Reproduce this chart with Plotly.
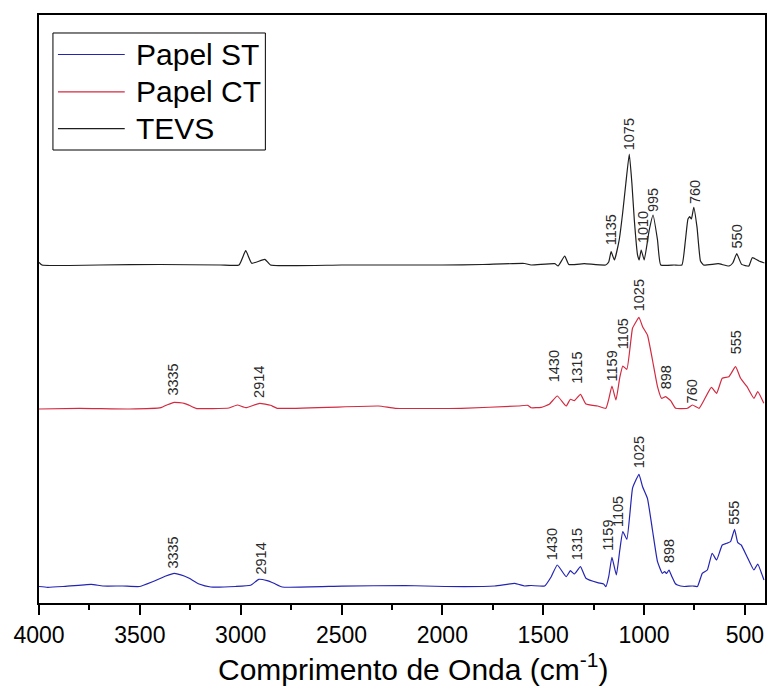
import numpy as np
import plotly.graph_objects as go

# FTIR spectra (wavenumber in cm-1, intensity in arbitrary units above each baseline)
st_wn = [4000, 3957, 3881, 3741, 3684, 3585, 3502, 3437, 3371, 3330, 3280, 3255, 3206, 3148,
         3025, 2951, 2910, 2869, 2835, 2794, 2498, 2185, 1987, 1740, 1641, 1592, 1560, 1493,
         1460, 1430, 1386, 1365, 1345, 1315, 1288, 1230, 1200, 1189, 1175, 1159, 1137, 1120,
         1105, 1085, 1057, 1040, 1025, 1007, 983, 958, 933, 909, 898, 888, 876, 862, 845,
         834, 800, 760, 735, 711, 686, 662, 640, 612, 590, 571, 551, 535, 518, 489, 455,
         436, 420, 405]
st_val = [0.0, -0.8, 0.0, 2.2, 0.5, 0.5, 0.0, 4.8, 10.5, 13.2, 10.5, 8.2, 2.5, -0.5,
          0.0, 1.2, 7.2, 5.8, 3.2, -0.5, 0.4, 1.0, 0.0, 0.5, 3.2, 0.5, 1.0, 0.5,
          9.8, 21.5, 9.8, 15.8, 12.5, 19.8, 8.2, 3.8, 2.5, -0.2, 9.8, 29.2, 11.5, 36.5,
          54.8, 47.2, 98.2, 106.5, 112.2, 99.8, 88.2, 56.5, 24.8, 13.2, 15.0, 13.0, 16.5, 10.0, 3.0,
          1.5, 0.0, 0.5, 0.0, 13.2, 16.5, 33.2, 26.5, 41.5, 43.2, 44.8, 57.2, 43.8, 41.5, 29.8, 16.5,
          22.5, 14.8, 6.5]

ct_wn = [4000, 3800, 3552, 3395, 3363, 3330, 3280, 3255, 3222, 3058, 3017, 2975, 2906, 2852,
         2819, 2317, 2234, 1905, 1625, 1576, 1560, 1510, 1470, 1430, 1386, 1365, 1345, 1315,
         1288, 1230, 1189, 1175, 1159, 1139, 1120, 1105, 1085, 1057, 1040, 1025, 1007, 983,
         958, 933, 913, 893, 868, 843, 785, 760, 727, 702, 666, 640, 612, 579, 546, 521,
         489, 455, 436, 406]
ct_val = [-1.0, -0.3, -1.0, 0.3, 3.3, 5.7, 4.7, 2.7, -0.3, 0.0, 3.0, 0.3, 4.7, 2.7,
          -0.3, 2.0, -0.3, -0.3, 2.0, 2.7, 0.3, 0.7, 3.7, 12.0, 2.0, 8.7, 7.3, 13.7,
          4.0, 2.0, -0.3, 8.7, 22.0, 8.0, 30.6, 42.0, 38.7, 79.7, 86.0, 90.7, 81.3, 73.0,
          48.0, 21.3, 9.7, 11.3, 7.3, -0.3, -0.3, 3.0, -0.3, 8.0, 20.7, 14.7, 29.7, 31.3, 41.3, 29.7,
          21.3, 9.7, 16.3, 4.7]

tevs_wn = [4000, 3985, 3850, 3700, 3400, 3100, 3008, 2975, 2945, 2880, 2852, 2500, 2000, 1800,
           1592, 1560, 1442, 1426, 1393, 1373, 1296, 1190, 1175, 1163, 1147, 1123, 1106, 1090,
           1073, 1060, 1048, 1032, 1024, 1014, 999, 974, 955, 933, 917, 850, 812, 795, 782,
           773, 765, 753, 737, 720, 705, 632, 579, 560, 540, 516, 480, 463, 430, 403]
tevs_val = [2.7, 0.0, -0.5, 0.0, 0.5, 0.0, 0.0, 14.3, 1.7, 5.7, 0.0, 0.0, 0.0, 0.5,
            1.5, 0.0, 1.3, -1.0, 9.0, 0.6, 1.3, 0.0, 3.0, 13.3, 5.0, 25.0, 51.7, 81.7,
            111.0, 81.7, 45.0, 10.0, 5.0, 15.0, 5.0, 35.0, 50.0, 25.0, 0.0, 0.0, 0.0, 24.0, 46.0,
            48.3, 46.0, 57.7, 37.6, 4.0, 0.0, 1.3, -1.0, 2.0, 11.3, 0.6, -1.0, 7.3, 4.0, 2.0]

# vertical stacking of the three spectra
offsets = {"Papel ST": 0.0, "Papel CT": 178.5, "TEVS": 321.5}

# peak labels: text, position (cm-1), gap above the peak (px), horizontal nudge (px)
st_labels = ["3335", "2914", "1430", "1315", "1159", "1105", "1025", "898", "555"]
st_label_wn = [3334, 2898, 1430, 1315, 1159, 1105, 1025, 876, 551]
st_label_gap = [6, 6, 6, 8, 8, 6, 7, 8, 5]
st_label_dx = [0, 0, -5, -4, -4, -5, 0, 0, 0]

ct_labels = ["3335", "2914", "1430", "1315", "1159", "1105", "1025", "898", "760", "555"]
ct_label_wn = [3334, 2906, 1430, 1315, 1159, 1105, 1025, 893, 760, 546]
ct_label_gap = [8, 6, 15, 12, 6, 18, 7, 8, 3, 13]
ct_label_dx = [0, 0, -3, -3, 0, 0, 0, 0, 0, 0]

tevs_labels = ["1135", "1075", "1010", "995", "760", "550"]
tevs_label_wn = [1163, 1073, 1014, 955, 753, 540]
tevs_label_gap = [7, 5, 8, 4, 4, 6]
tevs_label_dx = [0, 0, 2, 0, 1, 0]

colors = {"Papel ST": "#2424B4", "Papel CT": "#D22A40", "TEVS": "#1E1E1E"}
FONT = "Liberation Sans, Arial, sans-serif"

series = [
    ("Papel ST", st_wn, st_val, st_labels, st_label_wn, st_label_gap, st_label_dx),
    ("Papel CT", ct_wn, ct_val, ct_labels, ct_label_wn, ct_label_gap, ct_label_dx),
    ("TEVS", tevs_wn, tevs_val, tevs_labels, tevs_label_wn, tevs_label_gap, tevs_label_dx),
]

fig = go.Figure()
annotations = []
for name, wn, val, labs, lab_wn, gaps, dxs in series:
    wn_a = np.array(wn, dtype=float)
    y_a = np.array(val, dtype=float) + offsets[name]
    fig.add_trace(go.Scatter(x=wn_a, y=y_a, mode="lines", name=name, showlegend=False,
                             line=dict(color=colors[name], width=1.2,
                                       shape="spline", smoothing=0.4)))
    for text, xw, gap, dx in zip(labs, lab_wn, gaps, dxs):
        # label sits just above the highest point of the spectrum near its position
        win = (wn_a >= xw - 12) & (wn_a <= xw + 12)
        ytop = y_a[win].max() if win.any() else np.interp(xw, wn_a[::-1], y_a[::-1])
        annotations.append(dict(x=xw, y=ytop, text=text, showarrow=False, textangle=-90,
                                xanchor="center", yanchor="bottom", yshift=gap - 3, xshift=dx,
                                font=dict(family=FONT, size=14.5, color="#2A2A2A")))

# legend box drawn in paper coordinates, one row per spectrum
shapes = [dict(type="rect", xref="paper", yref="paper", x0=0.0192, x1=0.3118,
               y0=0.7704, y1=0.9694, line=dict(color="black", width=1), fillcolor="white",
               layer="above")]
legend_rows = [0.9328, 0.8692, 0.8068]
for (name, *_), ry in zip(series, legend_rows):
    shapes.append(dict(type="line", xref="paper", yref="paper", x0=0.0261, x1=0.1181,
                       y0=ry, y1=ry, line=dict(color=colors[name], width=1.2), layer="above"))
    annotations.append(dict(x=0.1305, y=ry, xref="paper", yref="paper", text=name,
                            showarrow=False, xanchor="left", yanchor="middle",
                            font=dict(family=FONT, size=30, color="black")))

# x-axis title
annotations.append(dict(x=0.5165, y=-0.109, xref="paper", yref="paper",
                        text="Comprimento de Onda (cm<sup>-1</sup>)", showarrow=False,
                        xanchor="center", yanchor="middle",
                        font=dict(family=FONT, size=30, color="black")))

fig.update_layout(
    width=771, height=688,
    margin=dict(l=39, r=4, t=15, b=85),
    paper_bgcolor="white", plot_bgcolor="white",
    font=dict(family=FONT, color="black"),
    showlegend=False,
    annotations=annotations,
    shapes=shapes,
)
fig.update_xaxes(
    range=[4000, 400], tickmode="linear", tick0=0, dtick=500,
    ticks="outside", ticklen=10, tickwidth=2, tickcolor="black",
    minor=dict(ticks="outside", ticklen=5, tickwidth=1.5, tickcolor="black", dtick=250, tick0=0),
    showline=True, linewidth=2, linecolor="black", mirror=True,
    showgrid=False, zeroline=False,
    tickfont=dict(family=FONT, size=23, color="black"),
)
fig.update_yaxes(
    range=[-16.5, 571.5], showline=True, linewidth=2, linecolor="black", mirror=True,
    showticklabels=False, ticks="", showgrid=False, zeroline=False,
)

fig.write_html("out.html")
